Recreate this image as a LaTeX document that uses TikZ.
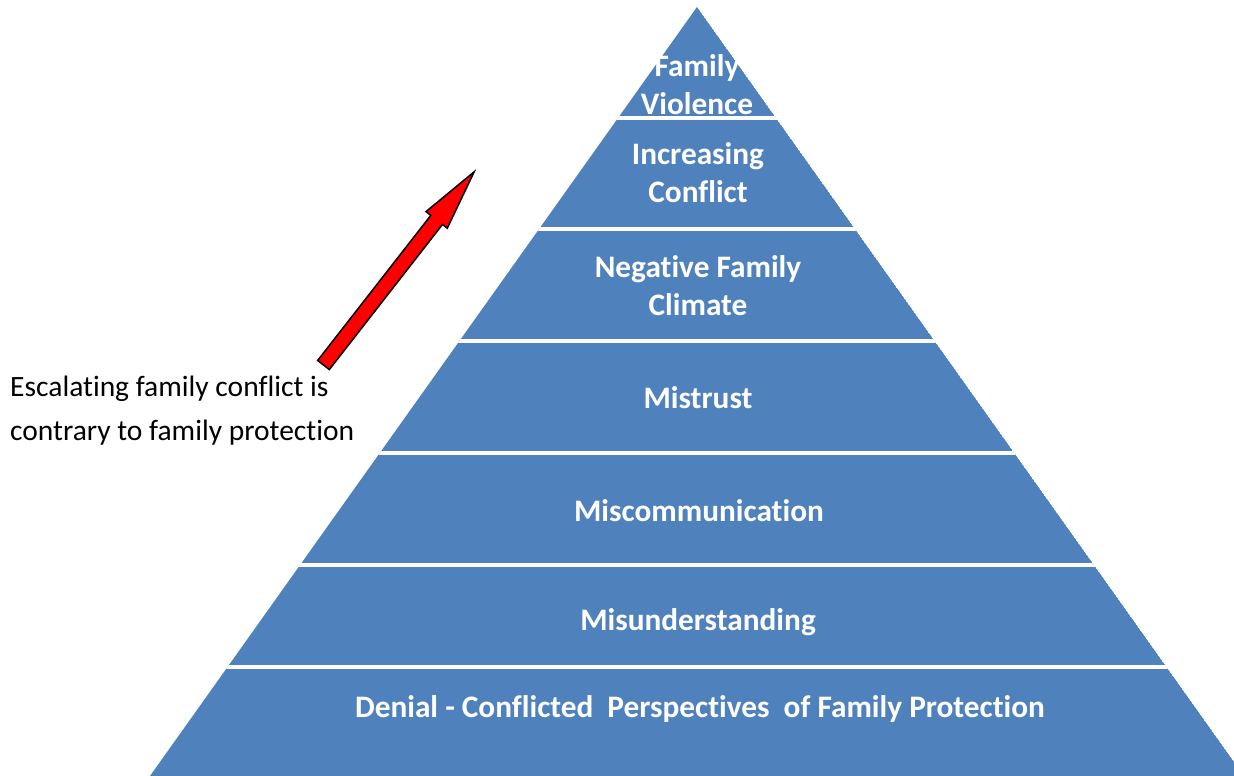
\documentclass[tikz,border=0pt]{standalone}
\usepackage{fontspec}
\setmainfont{Carlito}[Ligatures=NoCommon]
\definecolor{pyrblue}{HTML}{4F81BD}
\begin{document}
\begin{tikzpicture}[x=1pt,y=-1pt,
  layertext/.style={text=white, font=\fontsize{31.3}{38}\selectfont\bfseries, align=center, inner sep=0pt},
  caption/.style={font=\fontsize{29.5}{44}\selectfont, anchor=base west, inner sep=0pt},
  gapline/.style={white, line width=4pt},
  blockarrow/.style={fill=red, draw=black, line width=1.5pt, line join=miter},
]
\useasboundingbox (0,0) rectangle (1234,776);
\clip (0,0) rectangle (1234,776);

% pyramid outline
\coordinate (apex) at (697,7);
\coordinate (baseL) at (150,776);
\coordinate (baseR) at (1244,776);
\begin{scope}
  \clip (apex) -- (baseR) -- (baseL) -- cycle;
  \fill[pyrblue] (apex) -- (baseR) -- (baseL) -- cycle;
  % white separators between the levels
  \foreach \y in {117.5,228.5,341,453,565,667}
    \draw[gapline] (0,\y) -- (1234,\y);
\end{scope}

% level labels, top to bottom
\node[layertext] (violence) at (697,88)  {\strut Family\\\strut Violence};
\node[layertext] (conflict) at (698,176) {\strut Increasing\\\strut Conflict};
\node[layertext] (climate)  at (698,288.5) {\strut Negative Family\\\strut Climate};
\node[layertext] (mistrust) at (698,400.5) {\strut Mistrust};
\node[layertext] (miscomm)  at (699,513.5) {\strut Miscommunication};
\node[layertext] (misund)   at (698,622.5) {\strut Misunderstanding};
\node[layertext] (denial)   at (700,709.5) {\strut Denial - Conflicted\ \ Perspectives\ \ of Family Protection};

% side caption
\node[caption] (capA) at (10,396) {Escalating family conflict is};
\node[caption] (capB) at (10,440) {contrary to family protection};

% upward block arrow
\coordinate (arrowtail) at (323.5,365);
\begin{scope}[shift={(arrowtail)}, rotate=52.05]
  \filldraw[blockarrow] (0,-7.4) -- (184,-7.4) -- (184,-13.5) -- (245,0)
    -- (184,13.5) -- (184,7.4) -- (0,7.4) -- cycle;
\end{scope}
\end{tikzpicture}
\end{document}
